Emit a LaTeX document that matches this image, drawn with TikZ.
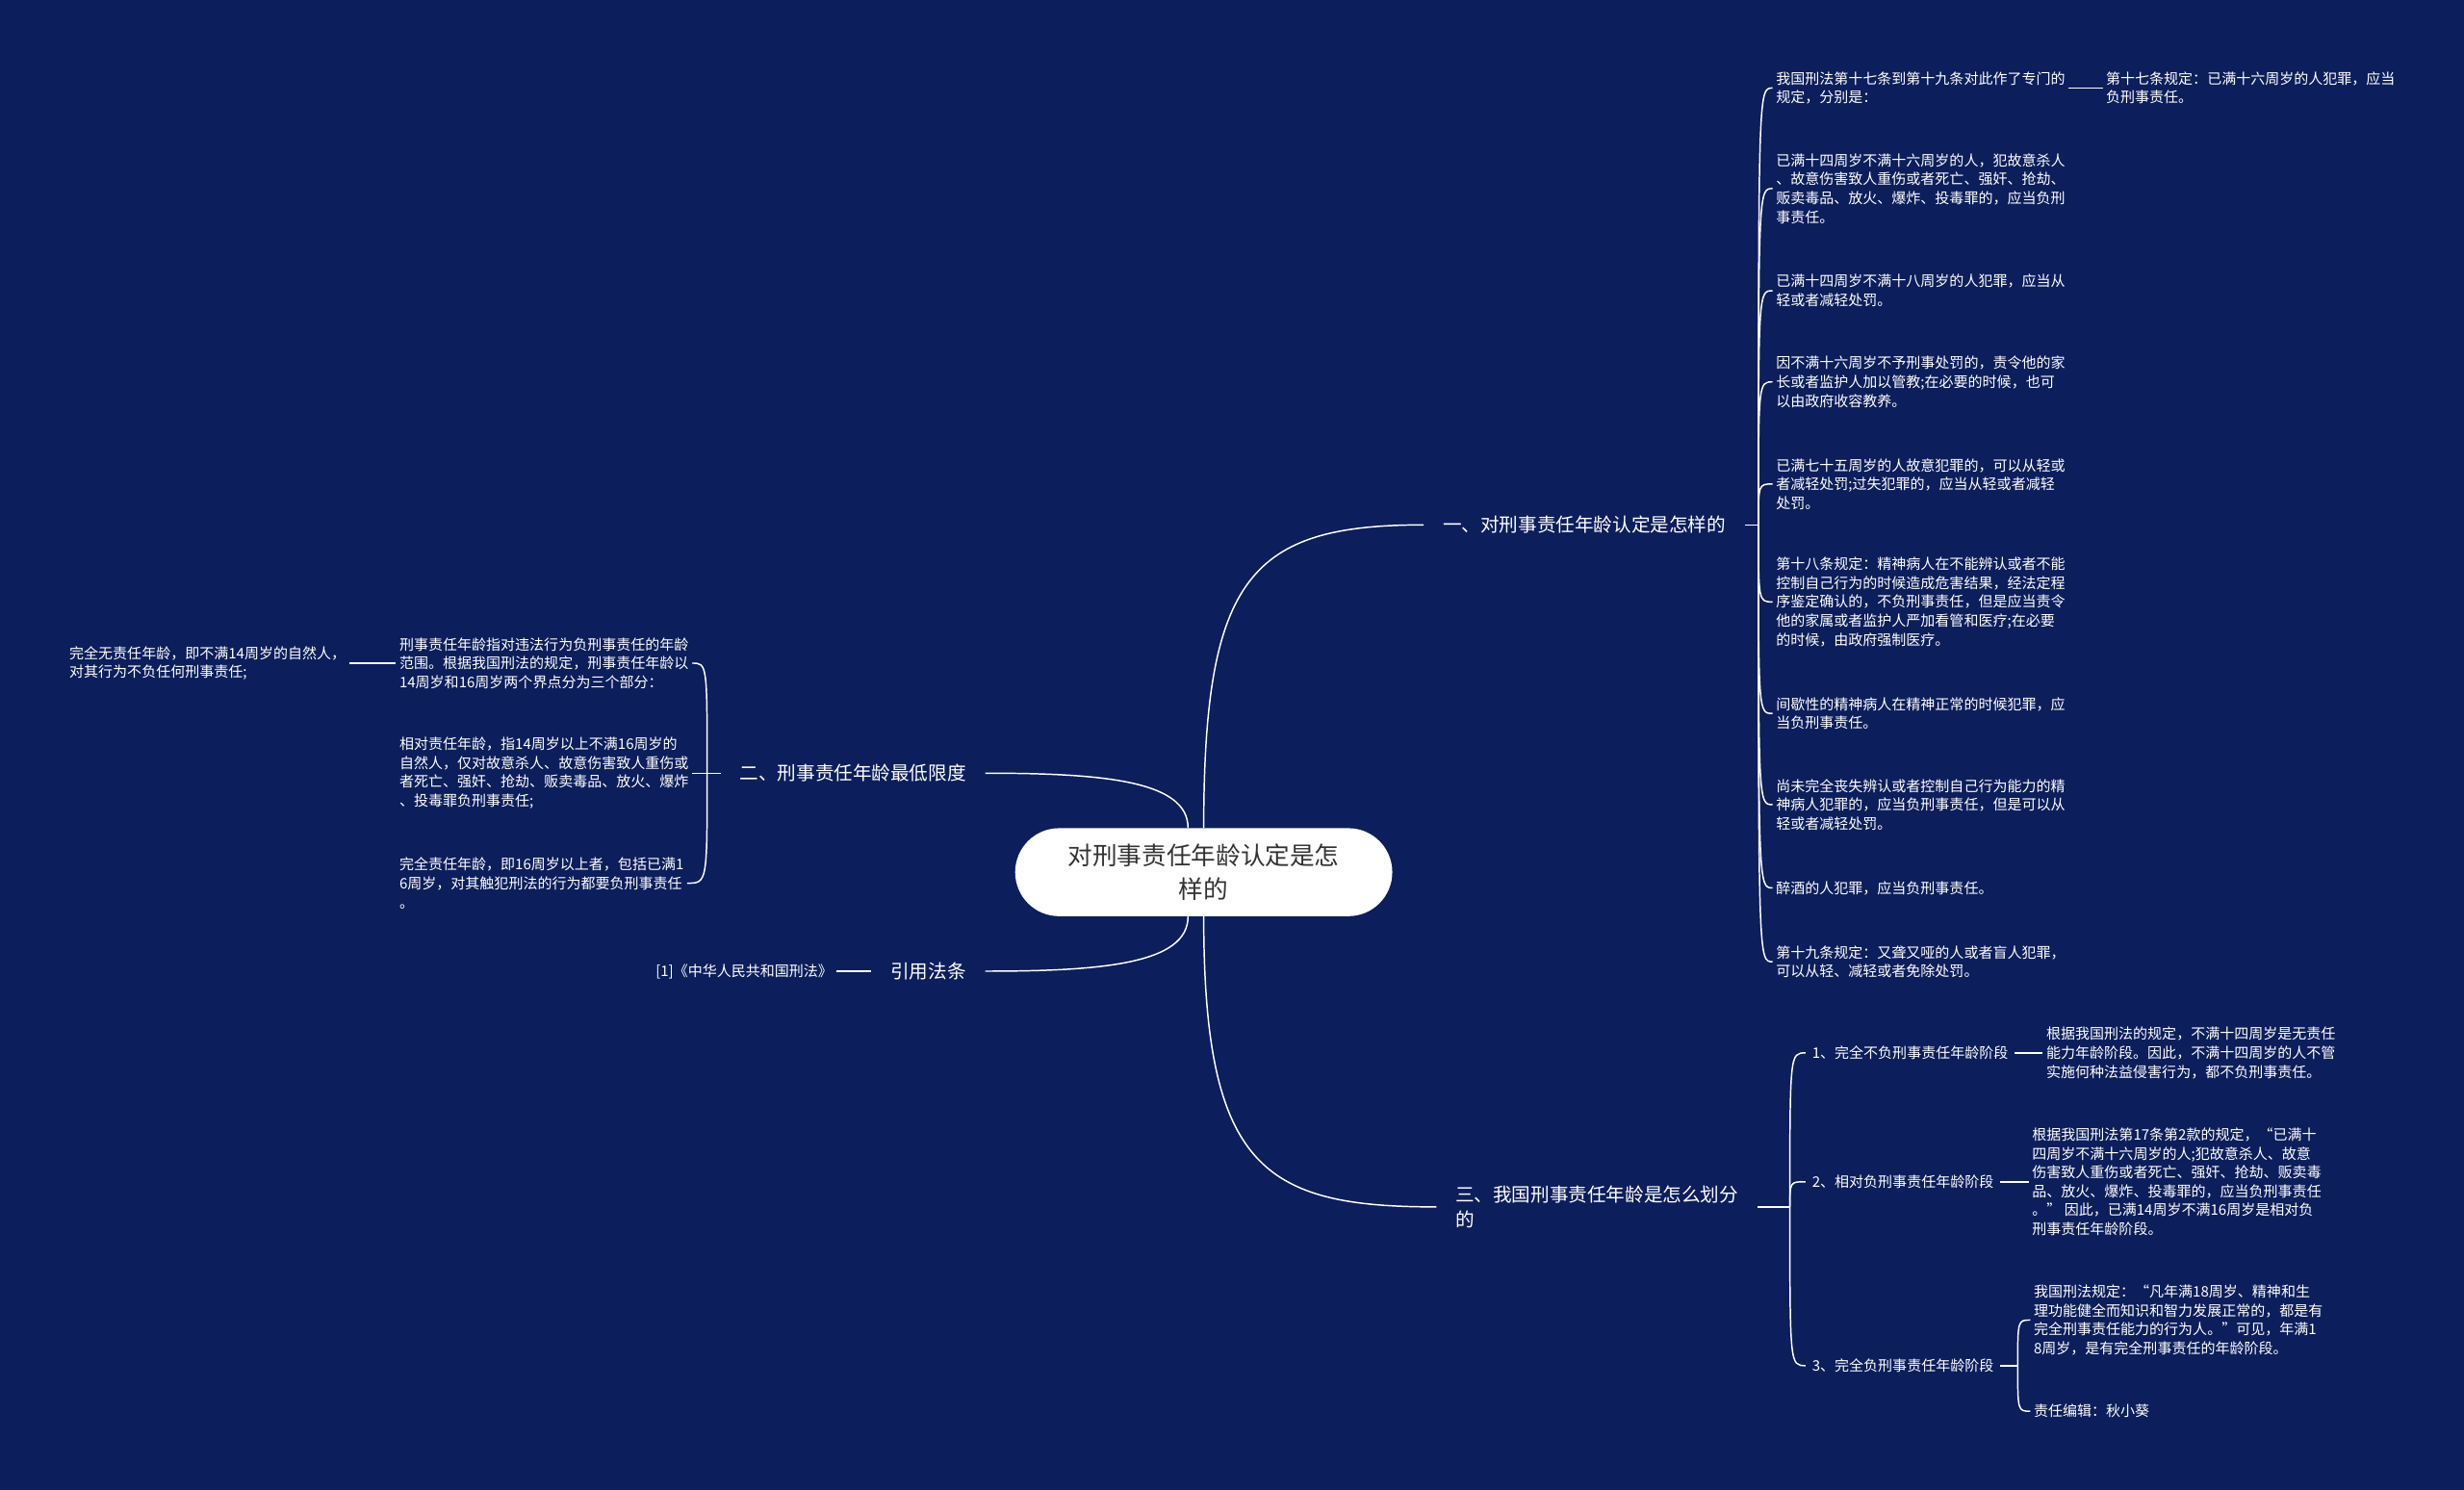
\documentclass[tikz,border=0pt]{standalone}
\usepackage{fontspec}
\setmainfont{Noto Sans CJK SC}
\definecolor{navy}{HTML}{0C1E5B}
\definecolor{rootink}{HTML}{333333}
\tikzset{
  link/.style={draw=white,line width=0.9pt},
  topic/.style={font=\fontsize{12}{16}\selectfont,text=white,align=left,inner xsep=12pt,inner ysep=2pt},
  stage/.style={font=\fontsize{9.2}{12}\selectfont,text=white,inner xsep=4pt,inner ysep=1pt},
  leaf/.style={font=\fontsize{9.2}{12}\selectfont,text=white,align=left,inner xsep=2pt,inner ysep=1pt},
}

\begin{document}
\begin{tikzpicture}[x=1pt,y=1pt]
\path[use as bounding box] (0,0) rectangle (1568,-948);
\fill[navy] (0,0) rectangle (1568,-948);

\node[fill=white,rounded corners=28pt,minimum width=240pt,minimum height=56pt,font=\fontsize{15.7}{21}\selectfont,text=rootink,align=center] (root) at (766,-555) {对刑事责任年龄认定是怎\\样的};

\node[topic,anchor=west] (t1) at (906,-334) {一、对刑事责任年龄认定是怎样的};
\node[topic,anchor=east] (t2) at (627,-492) {二、刑事责任年龄最低限度};
\node[topic,anchor=west] (t3) at (914,-768) {三、我国刑事责任年龄是怎么划分\\的};
\node[topic,anchor=east] (t4) at (627,-618) {引用法条};

\draw[link] (root.north) .. controls +(0,160) and +(-110,0) .. (t1.west);
\draw[link] (root.south) .. controls +(0,-160) and +(-110,0) .. (t3.west);
\draw[link] (t2.east) .. controls +(75,0) and +(0,30) .. ([xshift=-10pt]root.north);
\draw[link] (t4.east) .. controls +(75,0) and +(0,-30) .. ([xshift=-10pt]root.south);

\node[leaf,anchor=west] (r1) at (1128,-56) {我国刑法第十七条到第十九条对此作了专门的\\规定，分别是：};
\node[leaf,anchor=west] (r2) at (1128,-120) {已满十四周岁不满十六周岁的人，犯故意杀人\\、故意伤害致人重伤或者死亡、强奸、抢劫、\\贩卖毒品、放火、爆炸、投毒罪的，应当负刑\\事责任。};
\node[leaf,anchor=west] (r3) at (1128,-185) {已满十四周岁不满十八周岁的人犯罪，应当从\\轻或者减轻处罚。};
\node[leaf,anchor=west] (r4) at (1128,-243) {因不满十六周岁不予刑事处罚的，责令他的家\\长或者监护人加以管教;在必要的时候，也可\\以由政府收容教养。};
\node[leaf,anchor=west] (r5) at (1128,-308) {已满七十五周岁的人故意犯罪的，可以从轻或\\者减轻处罚;过失犯罪的，应当从轻或者减轻\\处罚。};
\node[leaf,anchor=west] (r6) at (1128,-383) {第十八条规定：精神病人在不能辨认或者不能\\控制自己行为的时候造成危害结果，经法定程\\序鉴定确认的，不负刑事责任，但是应当责令\\他的家属或者监护人严加看管和医疗;在必要\\的时候，由政府强制医疗。};
\node[leaf,anchor=west] (r7) at (1128,-454) {间歇性的精神病人在精神正常的时候犯罪，应\\当负刑事责任。};
\node[leaf,anchor=west] (r8) at (1128,-512) {尚未完全丧失辨认或者控制自己行为能力的精\\神病人犯罪的，应当负刑事责任，但是可以从\\轻或者减轻处罚。};
\node[leaf,anchor=west] (r9) at (1128,-565) {醉酒的人犯罪，应当负刑事责任。};
\node[leaf,anchor=west] (r10) at (1128,-612) {第十九条规定：又聋又哑的人或者盲人犯罪，\\可以从轻、减轻或者免除处罚。};
\node[leaf,anchor=west] (s1) at (1338,-56) {第十七条规定：已满十六周岁的人犯罪，应当\\负刑事责任。};

\coordinate (f1) at (1119,-334);
\draw[link] (t1.east) -- (f1);
\draw[link] (f1) .. controls (f1 |- r1.west) .. (r1.west);
\draw[link] (f1) .. controls (f1 |- r2.west) .. (r2.west);
\draw[link] (f1) .. controls (f1 |- r3.west) .. (r3.west);
\draw[link] (f1) .. controls (f1 |- r4.west) .. (r4.west);
\draw[link] (f1) .. controls (f1 |- r5.west) .. (r5.west);
\draw[link] (f1) .. controls (f1 |- r6.west) .. (r6.west);
\draw[link] (f1) .. controls (f1 |- r7.west) .. (r7.west);
\draw[link] (f1) .. controls (f1 |- r8.west) .. (r8.west);
\draw[link] (f1) .. controls (f1 |- r9.west) .. (r9.west);
\draw[link] (f1) .. controls (f1 |- r10.west) .. (r10.west);
\draw[link] (r1.east) -- (s1.west);

\node[leaf,anchor=west] (l1) at (252,-422) {刑事责任年龄指对违法行为负刑事责任的年龄\\范围。根据我国刑法的规定，刑事责任年龄以\\14周岁和16周岁两个界点分为三个部分：};
\node[leaf,anchor=west] (l2) at (252,-492) {相对责任年龄，指14周岁以上不满16周岁的\\自然人，仅对故意杀人、故意伤害致人重伤或\\者死亡、强奸、抢劫、贩卖毒品、放火、爆炸\\、投毒罪负刑事责任;};
\node[leaf,anchor=west] (l3) at (252,-562) {完全责任年龄，即16周岁以上者，包括已满1\\6周岁，对其触犯刑法的行为都要负刑事责任\\。};
\node[leaf,anchor=west] (l0) at (42,-422) {完全无责任年龄，即不满14周岁的自然人，\\对其行为不负任何刑事责任;};

\coordinate (f2) at (450,-492);
\draw[link] (t2.west) -- (f2);
\draw[link] (f2) .. controls (f2 |- l1.east) .. (l1.east);
\draw[link] (f2) .. controls (f2 |- l2.east) .. (l2.east);
\draw[link] (f2) .. controls (f2 |- l3.east) .. (l3.east);
\draw[link] (l1.west) -- (l0.east);

\node[leaf,anchor=east] (q1) at (532,-618) {[1]《中华人民共和国刑法》};
\draw[link] (q1.east) -- (t4.west);

\node[stage,anchor=west] (g1) at (1149,-670) {1、完全不负刑事责任年龄阶段};
\node[stage,anchor=west] (g2) at (1149,-752) {2、相对负刑事责任年龄阶段};
\node[stage,anchor=west] (g3) at (1149,-869) {3、完全负刑事责任年龄阶段};
\node[leaf,anchor=west] (d1) at (1300,-670) {根据我国刑法的规定，不满十四周岁是无责任\\能力年龄阶段。因此，不满十四周岁的人不管\\实施何种法益侵害行为，都不负刑事责任。};
\node[leaf,anchor=west] (d2) at (1291,-752) {根据我国刑法第17条第2款的规定，“已满十\\四周岁不满十六周岁的人;犯故意杀人、故意\\伤害致人重伤或者死亡、强奸、抢劫、贩卖毒\\品、放火、爆炸、投毒罪的，应当负刑事责任\\。” 因此，已满14周岁不满16周岁是相对负\\刑事责任年龄阶段。};
\node[leaf,anchor=west] (d3) at (1292,-840) {我国刑法规定：“凡年满18周岁、精神和生\\理功能健全而知识和智力发展正常的，都是有\\完全刑事责任能力的行为人。”可见，年满1\\8周岁，是有完全刑事责任的年龄阶段。};
\node[leaf,anchor=west] (d4) at (1292,-898) {责任编辑：秋小葵};

\coordinate (f3) at (1139,-768);
\draw[link] (t3.east) -- (f3);
\draw[link] (f3) .. controls (f3 |- g1.west) .. (g1.west);
\draw[link] (f3) .. controls (f3 |- g2.west) .. (g2.west);
\draw[link] (f3) .. controls (f3 |- g3.west) .. (g3.west);
\draw[link] (g1.east) -- (d1.west);
\draw[link] (g2.east) -- (d2.west);
\coordinate (f4) at (1284,-869);
\draw[link] (g3.east) -- (f4);
\draw[link] (f4) .. controls (f4 |- d3.west) .. (d3.west);
\draw[link] (f4) .. controls (f4 |- d4.west) .. (d4.west);
\end{tikzpicture}
\end{document}
